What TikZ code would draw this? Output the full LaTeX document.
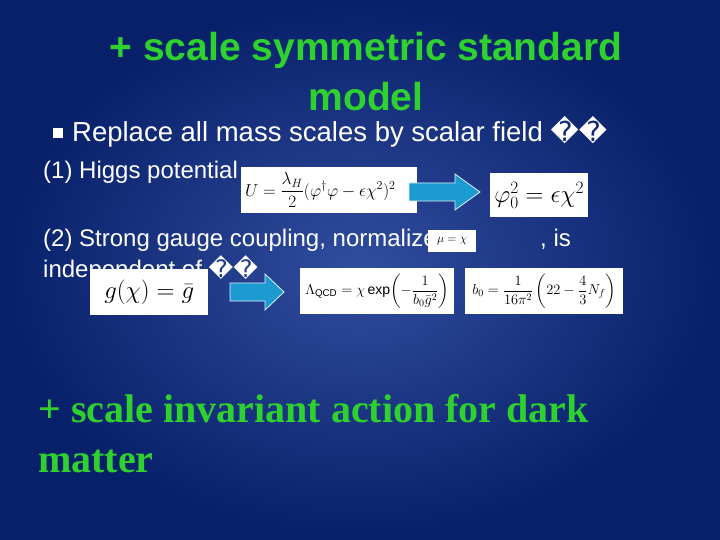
\documentclass[tikz,border=0pt]{standalone}
\usepackage{fontspec}
\setmainfont{Liberation Sans}
\newfontfamily\serifb{Liberation Serif}
\newfontfamily\dvs{DejaVu Sans}
\usepackage{amsmath}
\definecolor{bgblue}{HTML}{0E2F8E}
\definecolor{bgdark}{HTML}{08206A}
\definecolor{ttlgreen}{HTML}{2ED12E}
\definecolor{arrblue}{HTML}{1B9BD0}
\begin{document}
\begin{tikzpicture}[x=1pt,y=-1pt,
  txt/.style={text=white,font=\fontsize{24}{28}\selectfont,anchor=base west,inner sep=0},
  formula/.style={fill=white,inner sep=4pt,text=black,anchor=north west},
  blockarrow/.style={fill=arrblue,draw=white!85!arrblue,line width=0.8pt}]
\useasboundingbox (0,0) rectangle (720,540);
\shade[inner color=bgblue!90!white!95, outer color=bgdark] (0,0) rectangle (720,540);
\node[text=ttlgreen,font=\bfseries\fontsize{39}{50}\selectfont,align=center] (title) at (366,72) {+ scale symmetric standard\\model};
\node[fill=white,minimum size=10pt,inner sep=0] (bul) at (58,133) {};
\node[txt,font=\fontsize{27.5}{30}\selectfont] (l1) at (72,142) {Replace all mass scales by scalar field \dvs ��};
\node[txt] (l2) at (43,179) {(1) Higgs potential};
\node[txt] (l3) at (43,247) {(2) Strong gauge coupling, normalize};
\node[txt] (l3b) at (540,247) {, is};
\node[txt] (l4) at (43,277) {independent of \dvs ��};
\node[formula,minimum width=176pt,minimum height=46pt,text width=168pt,align=left,font=\fontsize{17}{20}\selectfont] (f1) at (241,167) {$U=\dfrac{\lambda_H}{2}(\varphi^\dagger\varphi-\epsilon\chi^2)^2$};
\node[formula,minimum width=98pt,minimum height=44pt,font=\fontsize{24}{28}\selectfont] (f2) at (490,173) {$\varphi_0^2=\epsilon\chi^2$};
\node[formula,minimum width=48pt,minimum height=22pt,inner sep=1pt,font=\fontsize{13}{15}\selectfont] (f3) at (428,230) {$\mu=\chi$};
\node[formula,minimum width=118pt,minimum height=46pt,font=\fontsize{24}{28}\selectfont] (f4) at (90,269) {$g(\chi)=\bar g$};
\node[formula,minimum width=154pt,minimum height=46pt,inner sep=1pt,font=\fontsize{14}{16}\selectfont] (f5) at (300,268) {$\Lambda_{\mathrm{QCD}}=\chi\exp\!\left(-\dfrac{1}{b_0\bar g^2}\right)$};
\node[formula,minimum width=158pt,minimum height=46pt,inner sep=1pt,font=\fontsize{14}{16}\selectfont] (f6) at (465,268) {$b_0=\dfrac{1}{16\pi^2}\left(22-\dfrac{4}{3}N_f\right)$};
\draw[blockarrow] (409,183) -- (455,183) -- (455,174) -- (480,192) -- (455,210) -- (455,201) -- (409,201) -- cycle;
\draw[blockarrow] (230,283) -- (265,283) -- (265,274) -- (284,292) -- (265,310) -- (265,301) -- (230,301) -- cycle;
\node[text=ttlgreen,font=\serifb\bfseries\fontsize{40}{50}\selectfont,align=left,anchor=north west,inner sep=0] (bottom) at (38,394) {+ scale invariant action for dark\\matter};
\end{tikzpicture}
\end{document}
